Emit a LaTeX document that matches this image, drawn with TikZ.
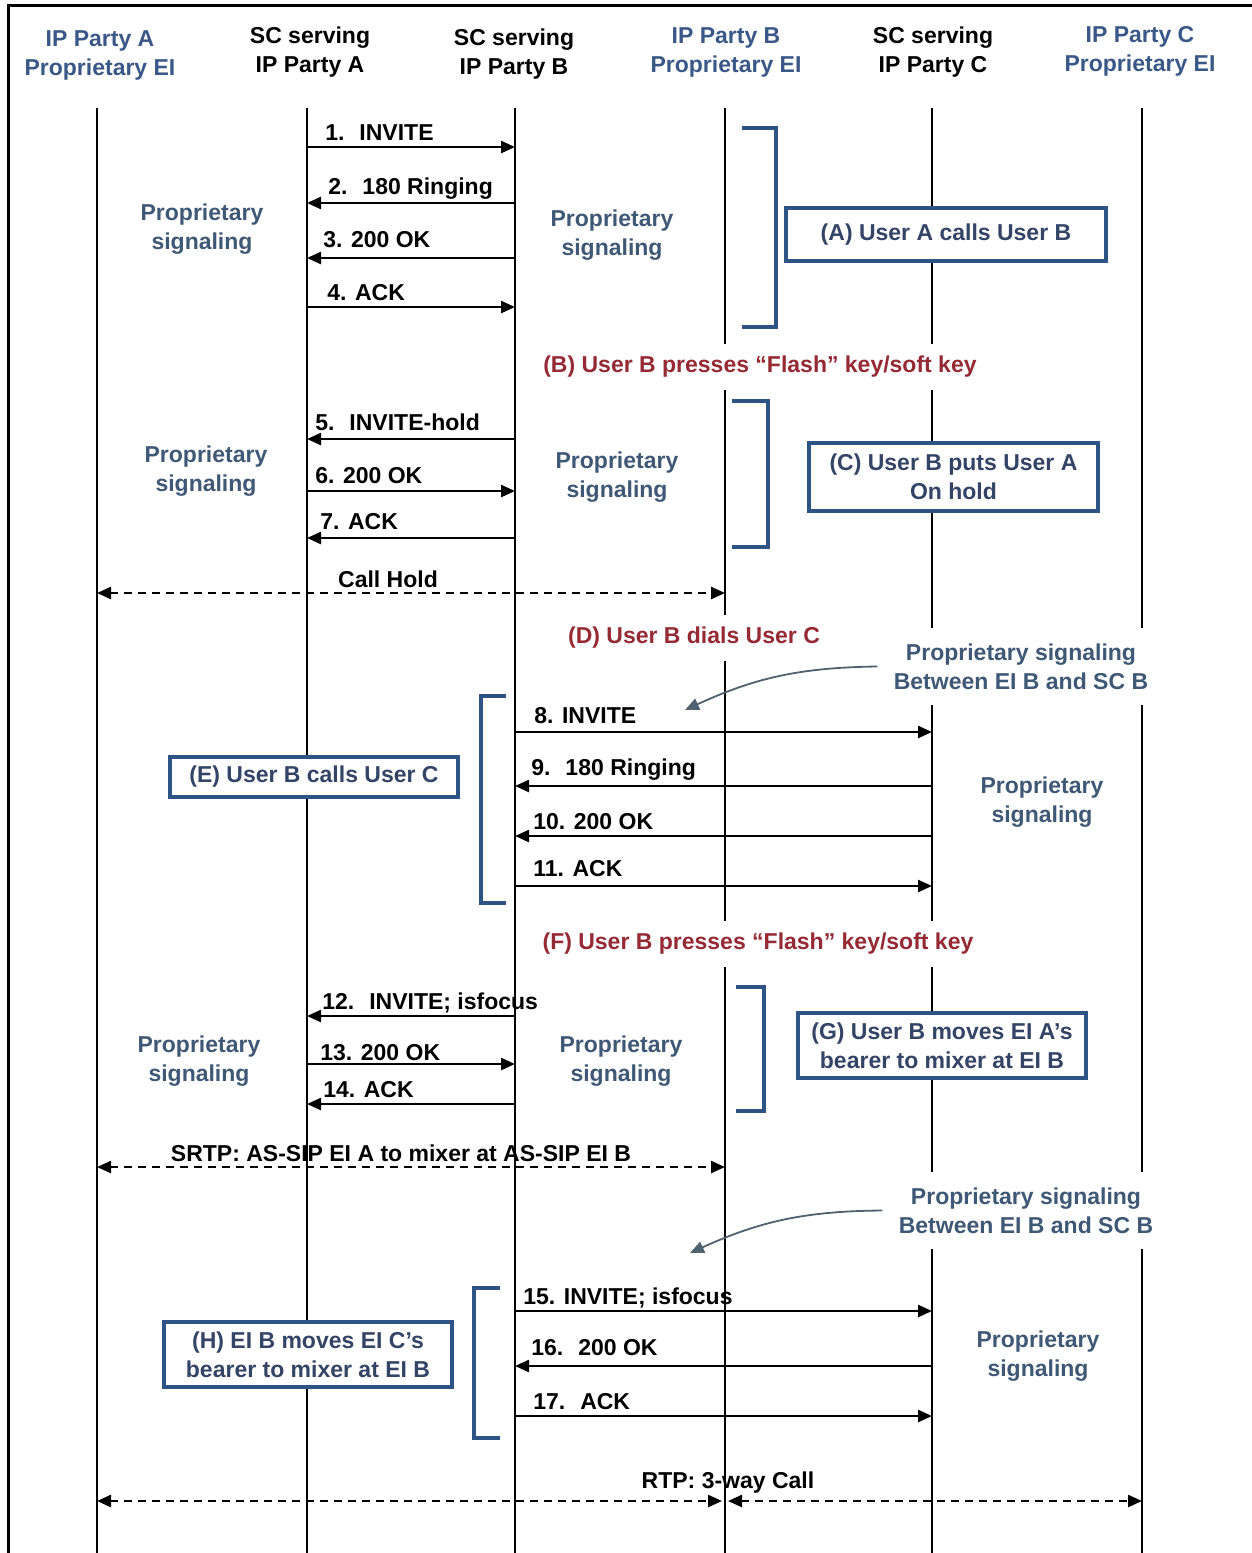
\documentclass[tikz,border=0pt]{standalone}
\usepackage{fontspec}
\setmainfont{Liberation Sans}
\usetikzlibrary{arrows.meta}
\definecolor{eiblue}{RGB}{58,88,135}
\definecolor{sigblue}{RGB}{62,88,118}
\definecolor{boxblue}{RGB}{46,84,134}
\definecolor{boxtext}{RGB}{52,68,102}
\definecolor{eventred}{RGB}{150,42,52}
\definecolor{pointgray}{RGB}{80,98,112}
\tikzset{
    big_font/.style={font=\bfseries\fontsize{11.5}{14.5}\selectfont},
    head_text/.style={big_font, align=center},
    head_ei/.style={head_text, text=eiblue},
    life_line/.style={line width=1pt, draw=black},
    msg_arrow/.style={-{Triangle[length=7pt, width=6pt]}, line width=1.2pt},
    msg_text/.style={big_font, anchor=west, inner sep=0pt, text height=8.2pt, text depth=0pt},
    media_text/.style={big_font, inner sep=0pt, text height=8.2pt, text depth=0pt},
    media_arrow/.style={{Triangle[length=7pt, width=6pt]}-{Triangle[length=7pt, width=6pt]}, line width=1.2pt, dash pattern=on 4pt off 3pt},
    sig_text/.style={big_font, align=center, text=sigblue},
    event_text/.style={big_font, text=eventred, fill=white, inner xsep=3pt, inner ysep=6pt},
    note_text/.style={big_font, align=center, text=sigblue, fill=white, inner sep=8pt},
    note_arrow/.style={-{Triangle[length=7pt, width=6pt]}, line width=0.9pt, draw=pointgray},
    step_box/.style={big_font, align=center, draw=boxblue, line width=2pt, fill=white, text=boxtext, inner sep=0pt},
    bracket_line/.style={draw=boxblue, line width=2pt}
}

\begin{document}
\begin{tikzpicture}[x=0.5pt, y=-0.5pt]
    \useasboundingbox (0,0) rectangle (1252,1553);
    \draw[line width=1.5pt] (8,1553) -- (8,5) -- (1252,5);

    % participants
    \node[head_ei]   (h_eiA) at (100,55.5) {IP Party A\\Proprietary EI};
    \node[head_text] (h_scA) at (310,52.5) {SC serving\\IP Party A};
    \node[head_text] (h_scB) at (514,54.5) {SC serving\\IP Party B};
    \node[head_ei]   (h_eiB) at (726,52) {IP Party B\\Proprietary EI};
    \node[head_text] (h_scC) at (933,52.5) {SC serving\\IP Party C};
    \node[head_ei]   (h_eiC) at (1140,51.5) {IP Party C\\Proprietary EI};

    \foreach \name/\x in {eiA/97, scA/307, scB/515, eiB/725, scC/932, eiC/1142} {
        \coordinate (\name) at (\x,108);
        \coordinate (\name_end) at (\x,1553);
        \draw[life_line] (\name) -- (\name_end);
    }

    % (A) A calls B
    \draw[msg_arrow] (scA |- 0,147) -- (scB |- 0,147);
    \node[msg_text] (m1) at (325,132) {1.~ INVITE};
    \draw[msg_arrow] (scB |- 0,203) -- (scA |- 0,203);
    \node[msg_text] (m2) at (328,186) {2.~ 180 Ringing};
    \draw[msg_arrow] (scB |- 0,258) -- (scA |- 0,258);
    \node[msg_text] (m3) at (323,239) {3. 200 OK};
    \draw[msg_arrow] (scA |- 0,307) -- (scB |- 0,307);
    \node[msg_text] (m4) at (327,292) {4. ACK};
    \node[sig_text] (sig1) at (202,229.5) {Proprietary\\signaling};
    \node[sig_text] (sig2) at (612,235.5) {Proprietary\\signaling};
    \draw[bracket_line] (742,128) -- (776,128) -- (776,327) -- (742,327);
    \node[step_box, minimum width=160pt, minimum height=26.5pt] (boxA) at (946,234.5) {(A) User A calls User B};

    % (B)/(C) hold
    \node[event_text] (evB) at (760,367) {(B) User B presses “Flash” key/soft key};
    \draw[msg_arrow] (scB |- 0,439) -- (scA |- 0,439);
    \node[msg_text] (m5) at (315,422) {5.~ INVITE-hold};
    \draw[msg_arrow] (scA |- 0,491) -- (scB |- 0,491);
    \node[msg_text] (m6) at (315,475) {6. 200 OK};
    \draw[msg_arrow] (scB |- 0,538) -- (scA |- 0,538);
    \node[msg_text] (m7) at (320,521) {7. ACK};
    \node[sig_text] (sig3) at (206,471.5) {Proprietary\\signaling};
    \node[sig_text] (sig4) at (617,477.5) {Proprietary\\signaling};
    \draw[bracket_line] (732,401) -- (768,401) -- (768,547) -- (732,547);
    \node[step_box, minimum width=144.5pt, minimum height=34pt] (boxC) at (953.5,477) {(C) User B puts User A\\On hold};
    \draw[media_arrow] (eiA |- 0,593) -- (eiB |- 0,593);
    \node[media_text] (hold) at (388,579) {Call Hold};

    % (D)/(E) B calls C
    \node[event_text] (evD) at (694,638) {(D) User B dials User C};
    \node[note_text] (noteD) at (1021,666.5) {Proprietary signaling\\Between EI B and SC B};
    \coordinate (noteD_tip) at (685,710);
    \draw[note_arrow] (noteD.west) to[bend right=12] (noteD_tip);
    \draw[msg_arrow] (scB |- 0,732) -- (scC |- 0,732);
    \node[msg_text] (m8) at (534,715) {8. INVITE};
    \draw[msg_arrow] (scC |- 0,786) -- (scB |- 0,786);
    \node[msg_text] (m9) at (531,767) {9.~ 180 Ringing};
    \draw[msg_arrow] (scC |- 0,836) -- (scB |- 0,836);
    \node[msg_text] (m10) at (533,821) {10. 200 OK};
    \draw[msg_arrow] (scB |- 0,886) -- (scC |- 0,886);
    \node[msg_text] (m11) at (533,868) {11. ACK};
    \node[sig_text] (sig5) at (1042,802.5) {Proprietary\\signaling};
    \draw[bracket_line] (506,696) -- (481,696) -- (481,903) -- (506,903);
    \node[step_box, minimum width=144pt, minimum height=20pt] (boxE) at (314,777) {(E) User B calls User C};

    % (F)/(G) mixer at EI B
    \node[event_text] (evF) at (758,944) {(F) User B presses “Flash” key/soft key};
    \draw[msg_arrow] (scB |- 0,1016) -- (scA |- 0,1016);
    \node[msg_text] (m12) at (322,1001) {12.~ INVITE; isfocus};
    \draw[msg_arrow] (scA |- 0,1064) -- (scB |- 0,1064);
    \node[msg_text] (m13) at (320,1052) {13. 200 OK};
    \draw[msg_arrow] (scB |- 0,1104) -- (scA |- 0,1104);
    \node[msg_text] (m14) at (323,1089) {14. ACK};
    \node[sig_text] (sig6) at (199,1061.5) {Proprietary\\signaling};
    \node[sig_text] (sig7) at (621,1061.5) {Proprietary\\signaling};
    \draw[bracket_line] (736,987) -- (764,987) -- (764,1111) -- (736,1111);
    \node[step_box, minimum width=144pt, minimum height=32.5pt] (boxG) at (942,1045.5) {(G) User B moves EI A’s\\bearer to mixer at EI B};
    \draw[media_arrow] (eiA |- 0,1167) -- (eiB |- 0,1167);
    \node[media_text] (srtp) at (401,1153) {SRTP: AS-SIP EI A to mixer at AS-SIP EI B};

    % (H) C to mixer
    \node[note_text] (noteH) at (1026,1210.5) {Proprietary signaling\\Between EI B and SC B};
    \coordinate (noteH_tip) at (690,1253);
    \draw[note_arrow] (noteH.west) to[bend right=12] (noteH_tip);
    \draw[msg_arrow] (scB |- 0,1311) -- (scC |- 0,1311);
    \node[msg_text] (m15) at (523,1296) {15. INVITE; isfocus};
    \draw[msg_arrow] (scC |- 0,1366) -- (scB |- 0,1366);
    \node[msg_text] (m16) at (531,1347) {16.~ 200 OK};
    \draw[msg_arrow] (scB |- 0,1416) -- (scC |- 0,1416);
    \node[msg_text] (m17) at (533,1401) {17.~ ACK};
    \node[sig_text] (sig8) at (1038,1356.5) {Proprietary\\signaling};
    \draw[bracket_line] (500,1288) -- (474,1288) -- (474,1438) -- (500,1438);
    \node[step_box, minimum width=144pt, minimum height=32.5pt] (boxH) at (308,1354.5) {(H) EI B moves EI C’s\\bearer to mixer at EI B};

    % 3-way call
    \draw[media_arrow, shorten >=1.5pt] (eiA |- 0,1501) -- (eiB |- 0,1501);
    \draw[media_arrow, shorten <=1.5pt] (eiB |- 0,1501) -- (eiC |- 0,1501);
    \node[media_text] (rtp) at (728,1480) {RTP: 3-way Call};
\end{tikzpicture}
\end{document}
